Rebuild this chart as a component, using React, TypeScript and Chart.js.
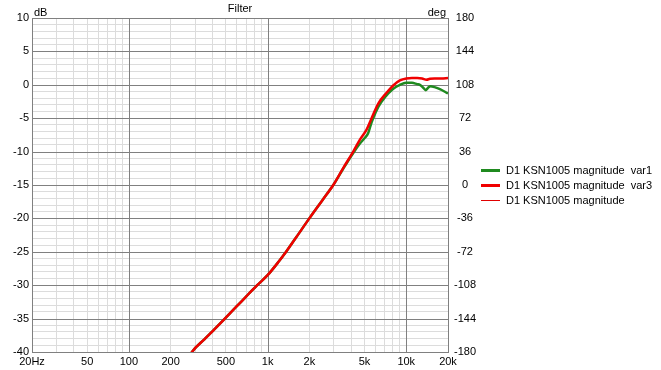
import React, { useEffect, useRef } from "react";
import { Chart, registerables } from "chart.js";

Chart.register(...registerables);

// ---- data ----
const seriesNames = [
  "D1 KSN1005 magnitude  var1",
  "D1 KSN1005 magnitude  var3",
  "D1 KSN1005 magnitude",
];
const seriesColors = ["#1f8a1f", "#f00000", "#e00000"];
const seriesWidths = [2.5, 2.5, 1];

// var1 (green)
const var1Freq = [260, 285, 350, 400, 492, 600, 700, 842, 1000, 1200, 1360, 1600, 2000, 2500, 2976, 3500, 4146, 4634, 5000, 5300, 5624, 6000, 6285, 7000, 8054, 9000, 10000, 11000, 12000, 12540, 13200, 13830, 14500, 15000, 16000, 17480, 20000];
const var1Db = [-41.6, -40, -38.1, -36.9, -35, -33.15, -31.7, -30, -28.5, -26.5, -25, -22.9, -20, -17.2, -15, -12.6, -10.2, -8.8, -8.0, -7.3, -5.6, -4.2, -3.3, -1.9, -0.6, 0.0, 0.3, 0.3, 0.1, 0.0, -0.4, -0.8, -0.35, -0.2, -0.35, -0.65, -1.3];

// var3 (red)
const var3Freq = [260, 285, 350, 400, 492, 600, 700, 842, 1000, 1200, 1360, 1600, 2000, 2500, 2976, 3500, 4146, 4634, 5176, 5624, 6285, 7213, 8054, 9000, 10000, 11000, 12000, 13000, 14000, 14800, 16000, 18000, 20000];
const var3Db = [-41.6, -40, -38.1, -36.9, -35, -33.15, -31.7, -30, -28.5, -26.5, -25, -22.9, -20, -17.2, -15, -12.5, -10, -8.2, -6.7, -5, -2.8, -1.2, -0.1, 0.65, 0.95, 1.0, 1.0, 0.95, 0.75, 0.9, 0.95, 0.95, 1.0];

// tick labels
const xLabelMap: Record<number, string> = {
  20: "20Hz", 50: "50", 100: "100", 200: "200", 500: "500",
  1000: "1k", 2000: "2k", 5000: "5k", 10000: "10k", 20000: "20k",
};
const xMajor = [20, 100, 1000, 10000, 20000];
const dbMin = -40;
const dbMax = 10;
const dbLabelStep = 5;
const phaseTicks = [-180, -144, -108, -72, -36, 0, 36, 72, 108, 144, 180];
const titleText = "Filter";
const leftUnit = "dB";
const rightUnit = "deg";

const FONT = "'Liberation Sans', Arial, sans-serif";
const FS = 11;
const MAJOR = "#808080";
const MINOR = "#dcdcdc";

function buildXGrid(): number[] {
  const out: number[] = [];
  for (let dec = 10; dec <= 10000; dec *= 10) {
    for (let m = 1; m <= 9; m++) {
      const v = m * dec;
      if (v >= 20 && v <= 20000) out.push(v);
    }
  }
  out.push(20000);
  return Array.from(new Set(out));
}
function buildYGrid(): number[] {
  const out: number[] = [];
  for (let v = dbMin; v <= dbMax; v++) out.push(v);
  return out;
}

const majorGridPlugin = {
  id: "majorGrid",
  beforeDatasetsDraw(chart: any) {
    const { ctx, chartArea, scales } = chart;
    ctx.save();
    ctx.strokeStyle = MAJOR;
    ctx.lineWidth = 1;
    ctx.beginPath();
    for (let v = dbMin; v <= dbMax; v += dbLabelStep) {
      const y = Math.round(scales.y.getPixelForValue(v)) + 0.5;
      ctx.moveTo(chartArea.left, y);
      ctx.lineTo(chartArea.right + 1, y);
    }
    for (const f of xMajor) {
      const x = Math.round(scales.x.getPixelForValue(f)) + 0.5;
      ctx.moveTo(x, chartArea.top);
      ctx.lineTo(x, chartArea.bottom + 1);
    }
    ctx.stroke();
    ctx.restore();
  },
};

const textPlugin = {
  id: "extraText",
  afterDraw(chart: any) {
    const { ctx, chartArea } = chart;
    ctx.save();
    ctx.fillStyle = "#000";
    ctx.font = `${FS}px ${FONT}`;
    ctx.textBaseline = "alphabetic";
    ctx.textAlign = "center";
    ctx.fillText(titleText, (chartArea.left + chartArea.right) / 2, 12);
    ctx.textAlign = "left";
    ctx.fillText(leftUnit, chartArea.left + 2, 16);
    ctx.textAlign = "right";
    ctx.fillText(rightUnit, chartArea.right - 2, 16);

    // legend
    const cy = (chartArea.top + chartArea.bottom) / 2;
    const lx = chartArea.right + 33;
    ctx.textBaseline = "middle";
    ctx.textAlign = "left";
    seriesNames.forEach((name, i) => {
      const y = Math.round(cy + (i - 1) * 15);
      ctx.strokeStyle = seriesColors[i];
      ctx.lineWidth = i < 2 ? 3 : 1;
      ctx.beginPath();
      const yy = y + 0.5;
      ctx.moveTo(lx, yy);
      ctx.lineTo(lx + 19, yy);
      ctx.stroke();
      ctx.fillStyle = "#000";
      ctx.fillText(name, lx + 25, y + 1);
    });
    ctx.restore();
  },
};

export default function App() {
  const ref = useRef<HTMLCanvasElement | null>(null);
  useEffect(() => {
    if (!ref.current) return;
    const mk = (f: number[], d: number[]) => f.map((x, i) => ({ x, y: d[i] }));
    const xGrid = buildXGrid();
    const yGrid = buildYGrid();
    const ds = (i: number, f: number[], d: number[], order: number) => ({
      label: seriesNames[i],
      data: mk(f, d),
      borderColor: seriesColors[i],
      borderWidth: seriesWidths[i],
      pointRadius: 0,
      cubicInterpolationMode: "monotone",
      clip: 0,
      order,
    });
    const tickFont = { family: FONT, size: FS };
    const chart = new Chart(ref.current, {
      type: "line",
      data: {
        datasets: [
          ds(0, var1Freq, var1Db, 1),
          ds(1, var3Freq, var3Db, 0),
          ds(2, var3Freq, var3Db, 2),
        ],
      } as any,
      options: {
        animation: false,
        responsive: false,
        maintainAspectRatio: false,
        layout: { padding: { top: 18, left: 0, right: 0, bottom: 0 } },
        font: tickFont,
        plugins: {
          tooltip: { enabled: false },
          title: { display: false },
          legend: { display: false },
        },
        scales: {
          x: {
            type: "logarithmic",
            position: "bottom",
            min: 20,
            max: 20000,
            afterBuildTicks: (s: any) => {
              s.ticks = xGrid.map((v) => ({ value: v }));
            },
            afterFit: (s: any) => {
              s.height = 18;
            },
            ticks: {
              autoSkip: false,
              maxRotation: 0,
              minRotation: 0,
              padding: 3,
              color: "#000",
              font: tickFont,
              callback: (v: any) => xLabelMap[Number(v)] ?? "",
            },
            grid: {
              drawTicks: false,
              color: (c: any) => (xMajor.includes(c.tick?.value) ? "rgba(0,0,0,0)" : MINOR),
              lineWidth: 1,
            },
            border: { display: false },
          },
          y: {
            type: "linear",
            position: "left",
            min: dbMin,
            max: dbMax,
            afterBuildTicks: (s: any) => {
              s.ticks = yGrid.map((v) => ({ value: v }));
            },
            afterFit: (s: any) => {
              s.width = 32;
            },
            ticks: {
              autoSkip: false,
              padding: 3,
              color: "#000",
              font: tickFont,
              callback: (v: any) => (Number(v) % dbLabelStep === 0 ? String(v) : ""),
            },
            grid: {
              drawTicks: false,
              color: (c: any) => (c.tick && c.tick.value % dbLabelStep === 0 ? "rgba(0,0,0,0)" : MINOR),
              lineWidth: 1,
            },
            border: { display: false },
          },
          y2: {
            type: "linear",
            position: "right",
            min: -180,
            max: 180,
            afterBuildTicks: (s: any) => {
              s.ticks = phaseTicks.map((v) => ({ value: v }));
            },
            afterFit: (s: any) => {
              s.width = 213;
            },
            ticks: {
              autoSkip: false,
              padding: 6,
              crossAlign: "center",
              color: "#000",
              font: tickFont,
              callback: (v: any) => String(v),
            },
            grid: { display: false, drawTicks: false },
            border: { display: false },
          },
        },
      } as any,
      plugins: [majorGridPlugin, textPlugin],
    });
    return () => chart.destroy();
  }, []);
  return (
    <div style={{ position: "absolute", left: 0, top: 0, width: 661, height: 370, background: "#fff" }}>
      <canvas ref={ref} width={661} height={370} style={{ display: "block" }} />
    </div>
  );
}
